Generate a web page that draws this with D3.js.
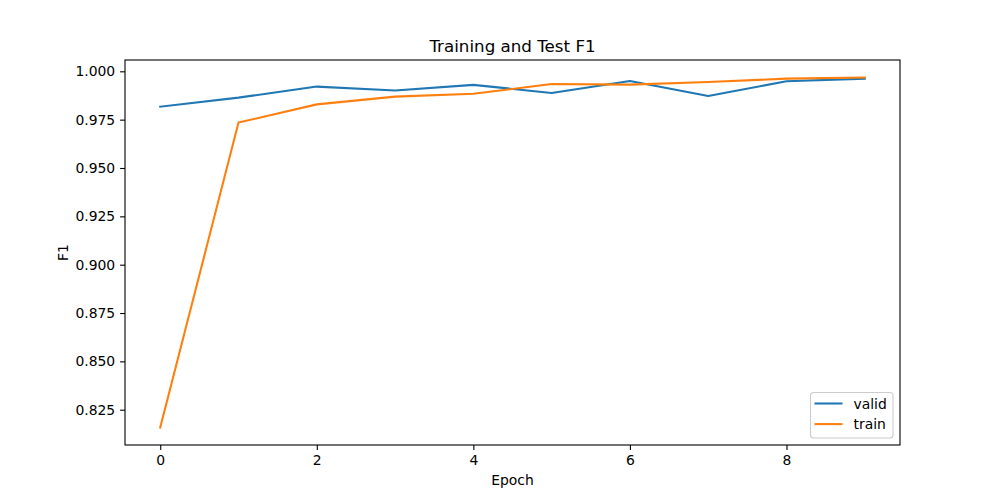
<!DOCTYPE html>
<html>
<head>
<meta charset="utf-8">
<script src="https://cdn.jsdelivr.net/npm/d3@7"></script>
<style>
  body { margin: 0; background: #fff; }
  text { font-family: "DejaVu Sans", sans-serif; }
</style>
</head>
<body>
<script>
// data
var epochs = [0, 1, 2, 3, 4, 5, 6, 7, 8, 9];
var valid = [0.9817, 0.9864, 0.9921, 0.9901, 0.9930, 0.9888, 0.9950, 0.9872, 0.9949, 0.9962];
var train = [0.8158, 0.9735, 0.9829, 0.9869, 0.9884, 0.9934, 0.9931, 0.9945, 0.9962, 0.9968];
var yTicks = [0.825, 0.850, 0.875, 0.900, 0.925, 0.950, 0.975, 1.000];
var xTicks = [0, 2, 4, 6, 8];

var svgWidth = 1000, svgHeight = 500;
var margin = { top: 60, right: 100, bottom: 55, left: 125 };
var width = svgWidth - margin.left - margin.right;
var height = svgHeight - margin.top - margin.bottom;
var fs = 13.9; // 10pt at 100dpi

var svg = d3.select("body").append("svg")
    .attr("width", svgWidth)
    .attr("height", svgHeight);

var chartGroup = svg.append("g")
    .attr("transform", `translate(${margin.left},${margin.top})`);

// matplotlib-like 5% margins
var allY = valid.concat(train);
var yMin = d3.min(allY), yMax = d3.max(allY);
var yPad = (yMax - yMin) * 0.05;
var xScale = d3.scaleLinear().domain([-0.45, 9.45]).range([0, width]);
var yScale = d3.scaleLinear().domain([yMin - yPad, yMax + yPad]).range([height, 0]);

var bottomAxis = d3.axisBottom(xScale).tickValues(xTicks).tickSizeOuter(0).tickSize(4.9).tickPadding(4.9);
var leftAxis = d3.axisLeft(yScale).tickValues(yTicks).tickFormat(d3.format(".3f")).tickSizeOuter(0).tickSize(4.9).tickPadding(4.9);

var gx = chartGroup.append("g")
    .attr("transform", `translate(0,${height})`)
    .call(bottomAxis);
var gy = chartGroup.append("g").call(leftAxis);

[gx, gy].forEach(function(g) {
  g.select(".domain").remove();
  g.attr("font-size", null).attr("font-family", null);
  g.selectAll("text").attr("font-size", fs).attr("fill", "#000")
    .style("font-family", "DejaVu Sans, sans-serif");
  g.selectAll("line").attr("stroke", "#000").attr("stroke-width", 1.1);
});

var line = d3.line()
    .x(function(d, i) { return xScale(epochs[i]); })
    .y(function(d) { return yScale(d); });

chartGroup.append("path").datum(valid)
    .attr("fill", "none").attr("stroke", "#1f77b4").attr("stroke-width", 2.08)
    .attr("stroke-linejoin", "round").attr("stroke-linecap", "square")
    .attr("d", line);
chartGroup.append("path").datum(train)
    .attr("fill", "none").attr("stroke", "#ff7f0e").attr("stroke-width", 2.08)
    .attr("stroke-linejoin", "round").attr("stroke-linecap", "square")
    .attr("d", line);

// frame
chartGroup.append("rect")
    .attr("width", width).attr("height", height)
    .attr("fill", "none").attr("stroke", "#000").attr("stroke-width", 1.1);

// title and labels
svg.append("text")
    .attr("x", margin.left + width / 2).attr("y", margin.top - 8)
    .attr("text-anchor", "middle").attr("font-size", 16.7)
    .text("Training and Test F1");
svg.append("text")
    .attr("x", margin.left + width / 2).attr("y", 485)
    .attr("text-anchor", "middle").attr("font-size", fs)
    .text("Epoch");
svg.append("text")
    .attr("transform", `translate(68,${margin.top + height / 2}) rotate(-90)`)
    .attr("text-anchor", "middle").attr("font-size", fs)
    .text("F1");

// legend
var legend = chartGroup.append("g")
    .attr("transform", `translate(${width - 89.5},${height - 52.5})`);
legend.append("rect")
    .attr("width", 82.5).attr("height", 45.5).attr("rx", 3)
    .attr("fill", "#fff").attr("fill-opacity", 0.8)
    .attr("stroke", "#ccc").attr("stroke-width", 1.1);
var series = [{ name: "valid", color: "#1f77b4" }, { name: "train", color: "#ff7f0e" }];
series.forEach(function(s, i) {
  var yy = 11 + i * 20.6;
  legend.append("line")
      .attr("x1", 4).attr("x2", 32).attr("y1", yy).attr("y2", yy)
      .attr("stroke", s.color).attr("stroke-width", 2.08);
  legend.append("text")
      .attr("x", 43).attr("y", yy + 5).attr("font-size", fs)
      .text(s.name);
});
</script>
</body>
</html>
